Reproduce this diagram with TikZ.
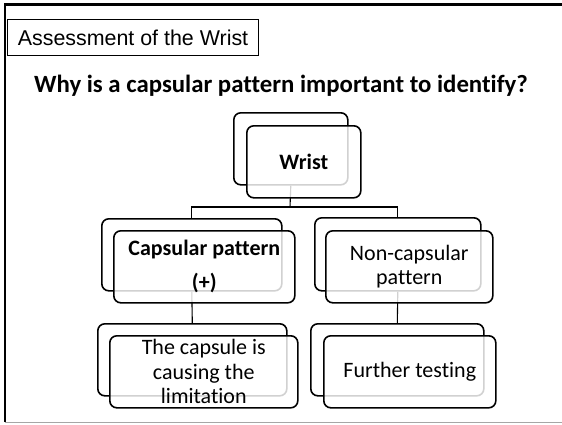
\documentclass[tikz,border=0pt]{standalone}
\usepackage{fontspec}
\setmainfont{Carlito}[Ligatures=NoCommon]
\newfontfamily\arialfont{Liberation Sans}
\begin{document}
\begin{tikzpicture}[x=1pt,y=-1pt,
  backbox/.style={draw=black,line width=1.6pt,rounded corners=7pt,fill=white,
    inner sep=0pt,anchor=north west},
  frontbox/.style={draw=black,line width=1.6pt,rounded corners=7pt,
    fill=white,fill opacity=0.82,text opacity=1,inner sep=0pt,anchor=north west,
    align=center,font=\fontsize{22}{24.5}\selectfont},
  link/.style={draw=black,line width=1.1pt}]
\useasboundingbox (0,0) rectangle (562,424);
% slide frame
\draw[line width=2.6pt] (5,422) -- (5,4.5) -- (562,4.5);
\draw[gray!70,line width=1.4pt] (5,422.5) -- (562,422.5);
% heading
\node[draw=black,line width=1pt,anchor=north west,minimum width=251pt,
  minimum height=36pt,inner sep=0pt,font=\arialfont\fontsize{21.4}{24}\selectfont]
  (head) at (7,19) {Assessment of the Wrist};
\node[font=\fontsize{24.8}{28}\selectfont\bfseries] (question) at (281,86)
  {Why is a capsular pattern important to identify?};
% stacked boxes: back shape, then front shape carrying the text
\node[backbox,minimum width=114pt,minimum height=72pt] (wristB) at (233,112) {};
\node[backbox,minimum width=180pt,minimum height=72pt] (capB) at (101,218) {};
\node[backbox,minimum width=166pt,minimum height=73pt] (nonB) at (314,217) {};
\node[backbox,minimum width=189pt,minimum height=72pt] (limB) at (97,323) {};
\node[backbox,minimum width=173pt,minimum height=72pt] (furB) at (310,323) {};
% connectors
\coordinate (bar) at (290,207);
\draw[link] (wristB.south) -- (bar);
\draw[link] (capB.north) |- (bar) -| (nonB.north);
\draw[link] (capB.south) -- (limB.north);
\draw[link] (nonB.south) -- (furB.north);
% front shapes
\node[frontbox,minimum width=114pt,minimum height=72pt,font=\fontsize{22}{24}\selectfont\bfseries]
  (wrist) at (246,125) {Wrist};
\node[frontbox,minimum width=181pt,minimum height=72pt,font=\fontsize{22}{34}\selectfont\bfseries]
  (cap) at (113,230) {Capsular pattern\\(+)};
\node[frontbox,minimum width=167pt,minimum height=72pt] (non) at (325,230)
  {Non-capsular\\pattern};
\node[frontbox,minimum width=188pt,minimum height=72pt] (lim) at (109,335)
  {The capsule is\\causing the\\limitation};
\node[frontbox,minimum width=172pt,minimum height=72pt] (fur) at (323,335)
  {Further testing};
\end{tikzpicture}
\end{document}
